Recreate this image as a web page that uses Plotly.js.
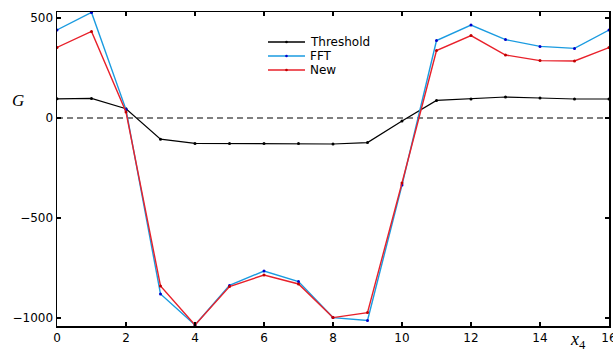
<!DOCTYPE html>
<html>
<head>
<meta charset="utf-8">
<script src="https://cdn.plot.ly/plotly-3.0.1.min.js"></script>
<style>html,body{margin:0;padding:0;background:#fff;}#chart{width:613px;height:351px;}</style>
</head>
<body>
<div id="chart"></div>
<script>
var x4 = [0,1,2,3,4,5,6,7,8,9,10,11,12,13,14,15,16];
var threshold = [96,98,46,-106,-127,-128,-127,-128,-130,-123,-15,88,95,105,100,95,95];
var fft = [440,528,42,-880,-1035,-837,-765,-818,-998,-1012,-335,387,465,392,358,348,440];
var newSeries = [353,433,30,-840,-1035,-843,-785,-830,-998,-973,-325,337,412,315,287,285,352];
var seriesNames = ['Threshold','FFT','New'];
var xTicks = [0,2,4,6,8,10,12,14,16];
var yTicks = [-1000,-500,0,500];

var lineColors = ['#000000','#1a9be0','#e8202a'];
var markerColors = ['#000000','#0000cc','#c00000'];
var lineWidths = [1.2,1.4,1.4];
var seriesData = [threshold, fft, newSeries];

var traces = seriesData.map(function(ys, i){
  return {x:x4, y:ys, name:seriesNames[i], mode:'lines+markers', showlegend:false,
          line:{color:lineColors[i], width:lineWidths[i]},
          marker:{color:markerColors[i], size:3}};
});

var axisCommon = {
  showgrid:false, zeroline:false, showline:true, linecolor:'#000', linewidth:1.5,
  mirror:'allticks', ticks:'inside', ticklen:4, tickwidth:1.2, tickcolor:'#000',
  ticklabeloverflow:'allow',
  tickfont:{family:'DejaVu Sans', size:12, color:'#000'}
};

var W = 552, H = 314, L = 57, T = 12;
function px(xp){ return (xp - L) / W; }
function py(yp){ return (T + H - yp) / H; }

var shapes = [{type:'line', xref:'paper', x0:0, x1:1, yref:'y', y0:0, y1:0,
           line:{color:'#000', width:1.2, dash:'6px,4px'}, layer:'below'}];
var annotations = [
    {text:'<i>G</i>', xref:'paper', yref:'paper', x:px(18), y:py(100),
     xanchor:'center', yanchor:'middle', showarrow:false,
     font:{family:'Liberation Serif', size:17, color:'#000'}},
    {text:'<i>x</i><sub>4</sub>', xref:'paper', yref:'paper', x:px(578), y:py(340),
     xanchor:'center', yanchor:'middle', showarrow:false,
     font:{family:'Liberation Serif', size:18, color:'#000'}}
];
// custom legend
var rowY = [42, 56, 70];
seriesNames.forEach(function(nm, i){
  shapes.push({type:'line', xref:'paper', yref:'paper', x0:px(268), x1:px(305), y0:py(rowY[i]), y1:py(rowY[i]),
               line:{color:lineColors[i], width:1.4}});
  shapes.push({type:'circle', xref:'paper', yref:'paper', x0:px(285.2), x1:px(287.8), y0:py(rowY[i]+1.3), y1:py(rowY[i]-1.3),
               line:{width:0}, fillcolor:markerColors[i]});
  annotations.push({text:nm, xref:'paper', yref:'paper', x:px(308), y:py(rowY[i]), xanchor:'left', yanchor:'middle',
                    showarrow:false, font:{family:'DejaVu Sans', size:12, color:'#000'}});
});

var layout = {
  width:613, height:351,
  margin:{l:57, r:4, t:12, b:25},
  paper_bgcolor:'#fff', plot_bgcolor:'#fff',
  showlegend:false,
  xaxis:Object.assign({}, axisCommon, {range:[0,16], tickvals:xTicks, ticktext:xTicks.map(String)}),
  yaxis:Object.assign({}, axisCommon, {range:[-1040,530], tickvals:yTicks,
          ticktext:yTicks.map(function(v){return v<0 ? '\u2212'+Math.abs(v) : String(v);})}),
  shapes:shapes,
  annotations:annotations
};

Plotly.newPlot('chart', traces, layout, {displayModeBar:false, staticPlot:true});
</script>
</body>
</html>
